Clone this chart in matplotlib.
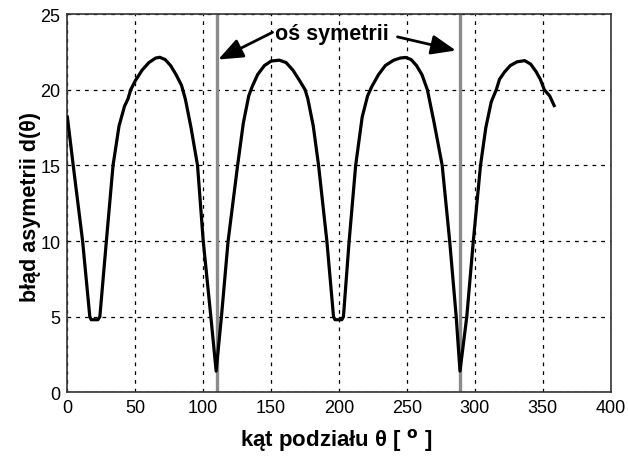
import matplotlib
matplotlib.use("Agg")
import matplotlib.pyplot as plt

# %% data
theta = [0, 4.3, 11.2, 16.5, 17.5, 22.5, 23.9, 28.7, 33.6, 38, 42, 44.6, 46.6, 50, 55, 60,
         65, 68, 72, 76, 80, 84, 86.8, 91, 95.8, 100, 105.6, 109.5,
         113.4, 118.3, 125.3, 129.5, 133.5, 136, 140, 145, 150, 156, 161, 166, 171, 175,
         177, 181, 184.9, 191, 195.9, 197, 202, 203.2, 207.4, 212.2, 217, 221, 224, 229,
         234, 240, 245, 249, 253, 257, 261, 265, 270, 275.9, 281.4, 286.2, 289,
         294, 298.8, 304.1, 308, 312, 315.7, 318.1, 322, 326, 331, 336.6, 341, 345, 348.1,
         351.1, 355, 358.3]
d = [18.2, 15.0, 10.0, 5.0, 4.8, 4.8, 5.0, 10.0, 15.0, 17.6, 18.9, 19.4, 20.0, 20.6, 21.3,
     21.8, 22.1, 22.15, 22.0, 21.6, 21.0, 20.3, 19.4, 17.5, 15.0, 10.0, 5.0, 1.4,
     5.0, 10.0, 15.0, 17.8, 19.6, 20.2, 21.0, 21.6, 21.9, 21.96, 21.8, 21.3, 20.6, 20.0,
     19.4, 17.6, 15.0, 10.0, 5.0, 4.8, 4.8, 5.0, 10.0, 15.0, 18.2, 19.6, 20.2, 21.0,
     21.6, 21.95, 22.1, 22.14, 22.0, 21.6, 21.0, 20.0, 17.8, 15.0, 10.0, 5.0, 1.4,
     5.0, 10.0, 15.0, 17.5, 19.2, 20.0, 20.7, 21.2, 21.6, 21.85, 21.93, 21.7, 21.2, 20.7,
     20.0, 19.6, 18.96]
sym_axes = [110, 289]
xticks = [0, 50, 100, 150, 200, 250, 300, 350, 400]
yticks = [0, 5, 10, 15, 20, 25]

font = "Liberation Sans"

# %%
fig = plt.figure(figsize=(6.28, 4.6), dpi=100)
ax = fig.add_axes([0.1073, 0.145, 0.8653, 0.822])

for xs in sym_axes:
    ax.plot([xs, xs], [0, 25], color="#8c8c8c", lw=2.4, zorder=2)
ax.plot(theta, d, color="black", lw=2.3, zorder=3)

ax.set_xlim(0, 400)
ax.set_ylim(0, 25)
ax.set_xticks(xticks)
ax.set_yticks(yticks)
ax.grid(True, color="black", linestyle=(0, (3, 4)), lw=0.9)
ax.tick_params(direction="in", length=0, pad=5)
for lab in ax.get_xticklabels() + ax.get_yticklabels():
    lab.set_family(font)
    lab.set_fontsize(13)
for s in ax.spines.values():
    s.set_linewidth(1.2)
    s.set_color("#333333")

ax.set_xlabel(r"kąt podziału θ [ $^{\mathbf{o}}$ ]", family=font, fontsize=16,
              fontweight="bold")
ax.xaxis.set_label_coords(0.494, -0.124)
ax.set_ylabel("błąd asymetrii d(θ)", family=font, fontsize=15.5, fontweight="bold")
ax.yaxis.set_label_coords(-0.068, 0.494)
ax.xaxis.label.set_va("center")
ax.yaxis.label.set_va("center")

arrow = dict(arrowstyle="-|>,head_length=1.5,head_width=0.6", color="black", lw=2,
             shrinkA=0, shrinkB=0)
ax.annotate("oś symetrii", xy=(195, 23.7), ha="center", va="center",
            family=font, fontsize=15.5, fontweight="bold")
ax.annotate("", xy=(111, 22.0), xytext=(151, 23.8), arrowprops=arrow)
ax.annotate("", xy=(286, 22.6), xytext=(243, 23.5), arrowprops=arrow)

fig.savefig("out.png", dpi=100)
